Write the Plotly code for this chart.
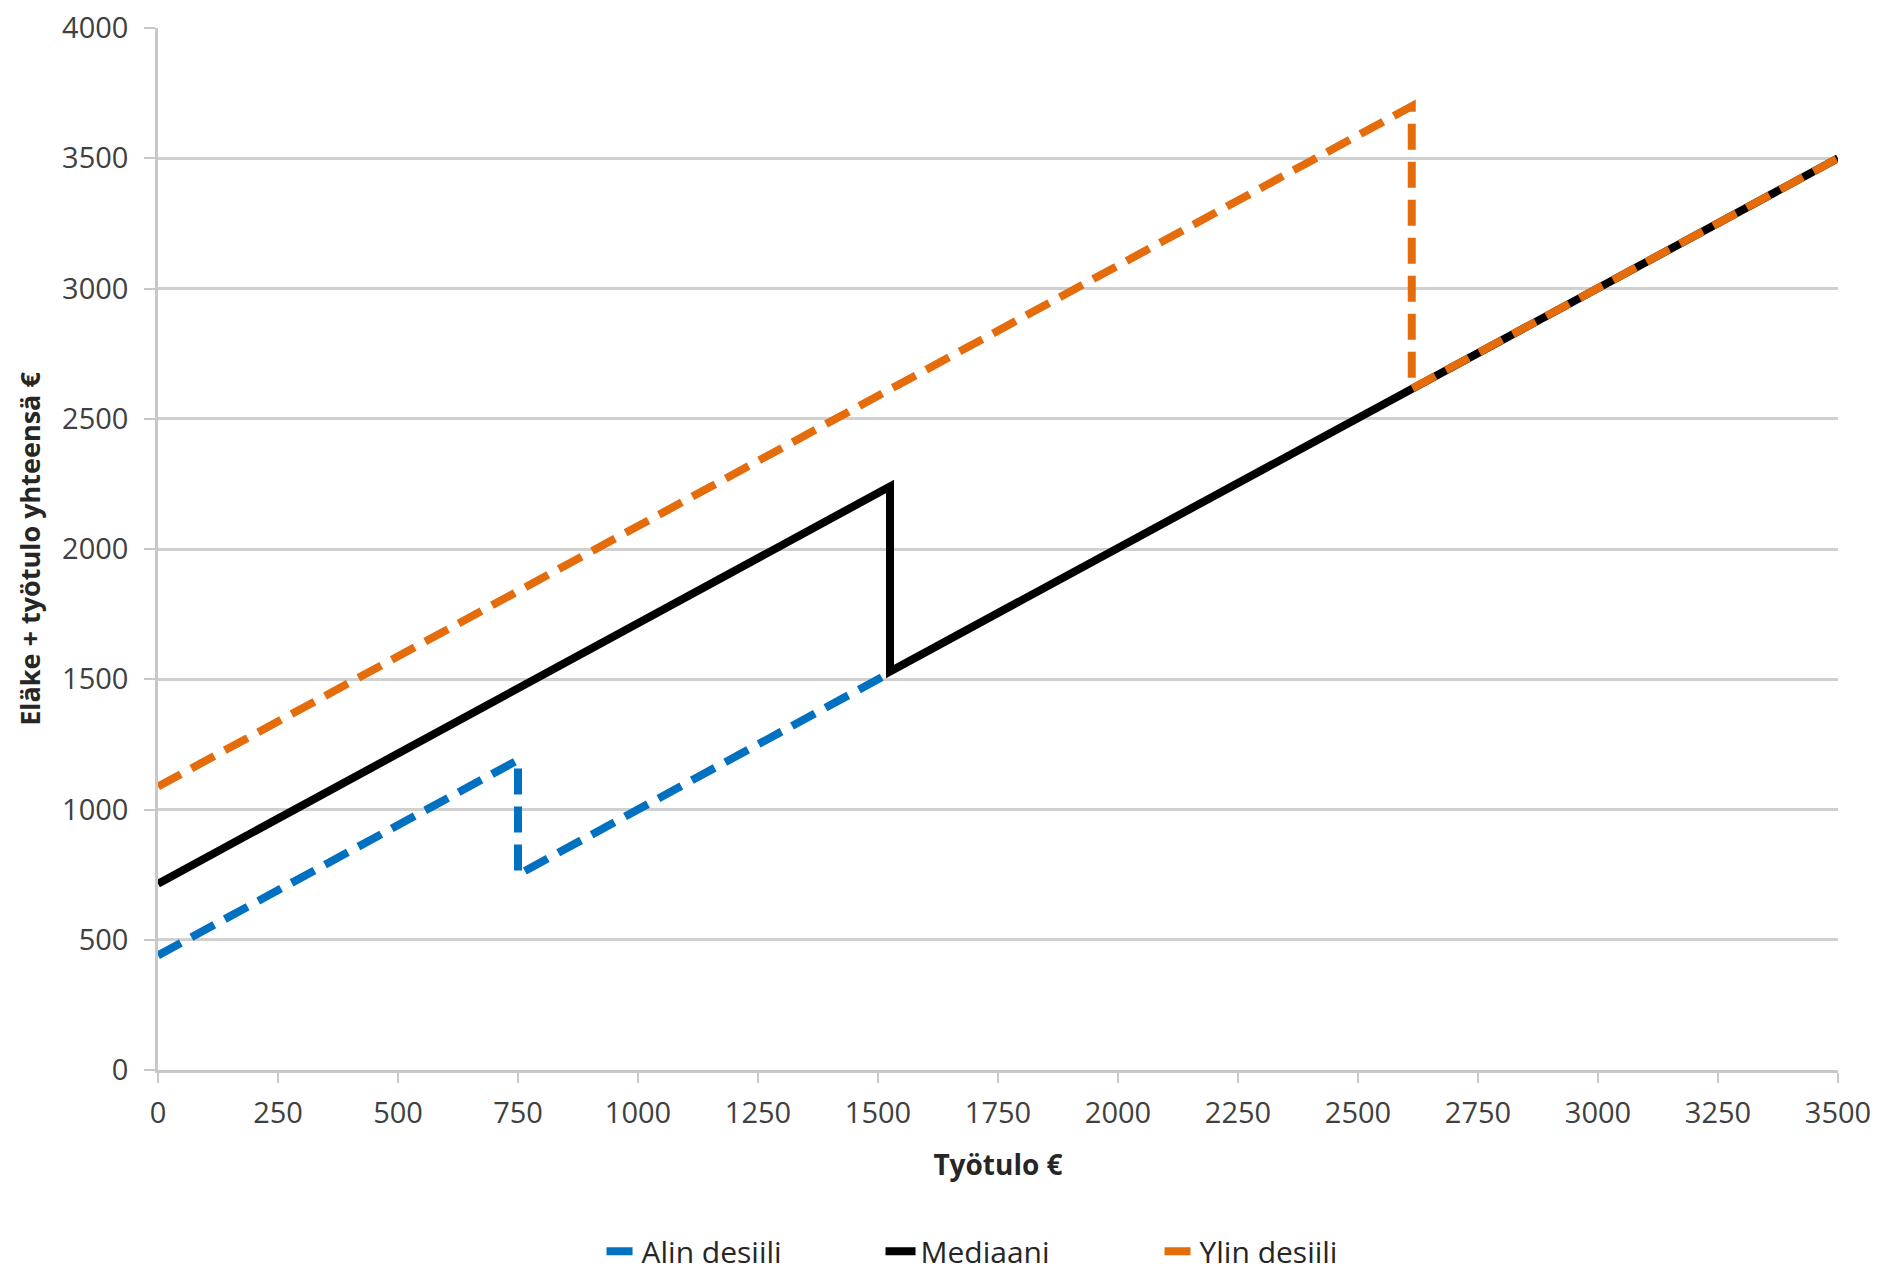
import plotly.graph_objects as go

# ---- data ----
tyotulo_alin = [0, 750, 750, 1525]
summa_alin = [440, 1190, 750, 1525]

tyotulo_mediaani = [0, 1525, 1525, 3500]
summa_mediaani = [715, 2240, 1530, 3500]

tyotulo_ylin = [0, 2612, 2612, 3500]
summa_ylin = [1088, 3700, 2615, 3500]

y_ticks = [0, 500, 1000, 1500, 2000, 2500, 3000, 3500, 4000]
x_ticks = [0, 250, 500, 750, 1000, 1250, 1500, 1750, 2000, 2250, 2500, 2750, 3000, 3250, 3500]

series_names = ["Alin desiili", "Mediaani", "Ylin desiili"]

FONT = "Open Sans"
TEXT = "#404040"
GRID = "#d0d0d0"

fig = go.Figure()
fig.add_trace(go.Scatter(
    x=tyotulo_alin, y=summa_alin, mode="lines", name=series_names[0],
    line=dict(color="#0070C0", width=8, dash="26px,12px"),
))
fig.add_trace(go.Scatter(
    x=tyotulo_mediaani, y=summa_mediaani, mode="lines", name=series_names[1],
    line=dict(color="#000000", width=8),
))
fig.add_trace(go.Scatter(
    x=tyotulo_ylin, y=summa_ylin, mode="lines", name=series_names[2],
    line=dict(color="#E46C0A", width=8, dash="26px,12px"),
))

# page body has an 8px margin, so the figure is 8px smaller than the window
fig.update_layout(
    width=1876, height=1267,
    margin=dict(l=150, r=46, t=20, b=205, autoexpand=False),
    paper_bgcolor="white", plot_bgcolor="white",
    font=dict(family=FONT, size=29, color=TEXT),
    showlegend=True,
    legend=dict(
        orientation="h", x=0.264, xanchor="left", y=-0.174, yanchor="middle",
        font=dict(family=FONT, size=30, color="#262626"),
        entrywidth=234, entrywidthmode="pixels", traceorder="normal",
        bgcolor="rgba(0,0,0,0)",
    ),
)

fig.update_xaxes(
    range=[0, 3500], tickmode="array", tickvals=x_ticks,
    ticktext=[str(v) for v in x_ticks],
    showgrid=False, zeroline=False,
    showline=True, linecolor="#c8c8c8", linewidth=2.5,
    ticks="outside", ticklen=10, tickwidth=2, tickcolor="#c8c8c8",
    ticklabelstandoff=5, ticklabeloverflow="allow",
    tickfont=dict(family=FONT, size=29, color=TEXT),
    title=dict(text="<b>Työtulo €</b>", font=dict(family=FONT, size=28, color="#262626"), standoff=26),
)
fig.update_yaxes(
    range=[0, 4000], tickmode="array", tickvals=y_ticks,
    ticktext=[str(v) for v in y_ticks],
    showgrid=True, gridcolor=GRID, gridwidth=2.5,
    zeroline=False,
    showline=True, linecolor="#c8c8c8", linewidth=2.5,
    ticks="outside", ticklen=11, tickwidth=2, tickcolor="#c8c8c8",
    ticklabelstandoff=10, ticklabeloverflow="allow",
    tickfont=dict(family=FONT, size=29, color=TEXT),
    title=dict(text="<b>Eläke + työtulo yhteensä €</b>", font=dict(family=FONT, size=27, color="#262626"), standoff=14),
)

fig.write_html("out.html")
